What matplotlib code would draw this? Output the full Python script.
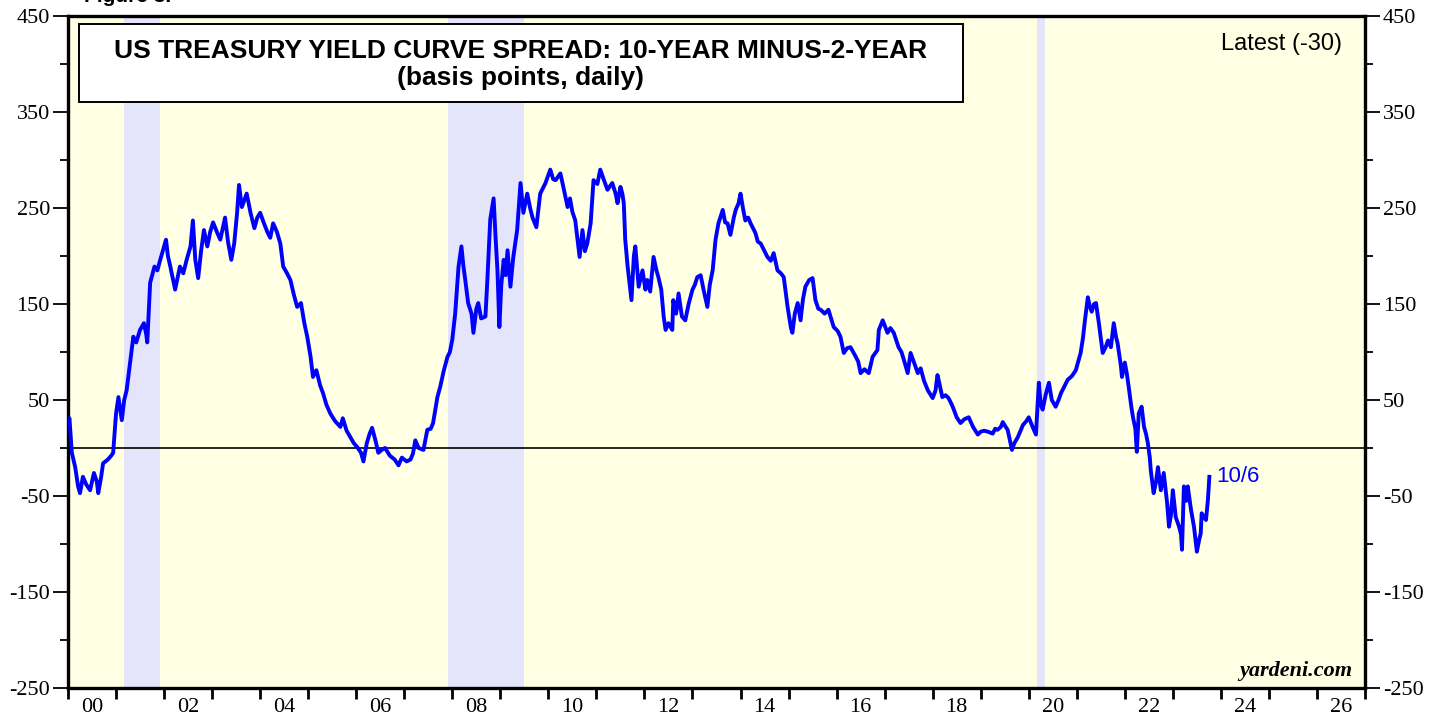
import numpy as np
import matplotlib
matplotlib.use('Agg')
import matplotlib.pyplot as plt
from matplotlib.patches import Rectangle
from matplotlib.ticker import FixedLocator

plt.rcParams['axes.unicode_minus'] = False

# Dades llegides del gràfic (any en fracció, punts bàsics)
dates = [
    2000.00, 2000.03, 2000.08, 2000.15, 2000.21, 2000.25, 2000.31, 2000.38, 2000.46, 2000.54,
    2000.60, 2000.63, 2000.69, 2000.73, 2000.83, 2000.90, 2000.94, 2001.00, 2001.05, 2001.12,
    2001.17, 2001.22, 2001.30, 2001.36, 2001.42, 2001.50, 2001.58, 2001.63, 2001.65, 2001.71,
    2001.80, 2001.86, 2001.92, 2002.04, 2002.08, 2002.13, 2002.23, 2002.33, 2002.40, 2002.47,
    2002.55, 2002.60, 2002.65, 2002.71, 2002.77, 2002.83, 2002.90, 2002.96, 2003.02, 2003.10,
    2003.17, 2003.27, 2003.33, 2003.40, 2003.46, 2003.52, 2003.56, 2003.62, 2003.72, 2003.80,
    2003.88, 2003.94, 2004.00, 2004.08, 2004.15, 2004.21, 2004.27, 2004.35, 2004.42, 2004.48,
    2004.56, 2004.63, 2004.70, 2004.77, 2004.85, 2004.92, 2004.98, 2005.05, 2005.10, 2005.17,
    2005.25, 2005.31, 2005.38, 2005.46, 2005.56, 2005.67, 2005.72, 2005.80, 2005.88, 2005.95,
    2006.02, 2006.10, 2006.15, 2006.22, 2006.28, 2006.33, 2006.40, 2006.46, 2006.53, 2006.60,
    2006.70, 2006.80, 2006.88, 2006.95, 2007.05, 2007.13, 2007.18, 2007.23, 2007.30, 2007.40,
    2007.48, 2007.55, 2007.60, 2007.69, 2007.75, 2007.82, 2007.90, 2007.95, 2008.00, 2008.06,
    2008.13, 2008.19, 2008.23, 2008.27, 2008.33, 2008.40, 2008.44, 2008.50, 2008.54, 2008.60,
    2008.69, 2008.73, 2008.79, 2008.86, 2008.90, 2008.94, 2008.98, 2009.02, 2009.07, 2009.11,
    2009.15, 2009.21, 2009.27, 2009.35, 2009.42, 2009.48, 2009.56, 2009.62, 2009.67, 2009.75,
    2009.83, 2009.94, 2010.04, 2010.10, 2010.15, 2010.25, 2010.32, 2010.40, 2010.45, 2010.50,
    2010.56, 2010.65, 2010.71, 2010.76, 2010.81, 2010.88, 2010.94, 2011.02, 2011.08, 2011.15,
    2011.23, 2011.33, 2011.40, 2011.44, 2011.50, 2011.54, 2011.57, 2011.60, 2011.65, 2011.73,
    2011.78, 2011.81, 2011.88, 2011.96, 2012.02, 2012.06, 2012.12, 2012.19, 2012.25, 2012.29,
    2012.35, 2012.40, 2012.44, 2012.50, 2012.58, 2012.60, 2012.66, 2012.71, 2012.78, 2012.85,
    2012.92, 2013.00, 2013.05, 2013.10, 2013.17, 2013.23, 2013.31, 2013.36, 2013.42, 2013.48,
    2013.54, 2013.63, 2013.68, 2013.73, 2013.79, 2013.86, 2013.90, 2013.96, 2014.00, 2014.05,
    2014.10, 2014.16, 2014.21, 2014.31, 2014.36, 2014.42, 2014.50, 2014.56, 2014.63, 2014.69,
    2014.77, 2014.84, 2014.90, 2014.98, 2015.05, 2015.08, 2015.13, 2015.19, 2015.25, 2015.30,
    2015.35, 2015.43, 2015.50, 2015.56, 2015.62, 2015.67, 2015.75, 2015.83, 2015.94, 2016.02,
    2016.08, 2016.15, 2016.22, 2016.29, 2016.40, 2016.45, 2016.50, 2016.58, 2016.67, 2016.75,
    2016.85, 2016.88, 2016.96, 2017.06, 2017.12, 2017.19, 2017.29, 2017.35, 2017.40, 2017.48,
    2017.54, 2017.62, 2017.69, 2017.75, 2017.82, 2017.90, 2018.00, 2018.06, 2018.10, 2018.15,
    2018.20, 2018.27, 2018.33, 2018.40, 2018.44, 2018.50, 2018.58, 2018.66, 2018.75, 2018.84,
    2018.94, 2019.00, 2019.07, 2019.15, 2019.25, 2019.30, 2019.35, 2019.42, 2019.46, 2019.52,
    2019.56, 2019.60, 2019.65, 2019.70, 2019.77, 2019.83, 2019.88, 2019.95, 2020.00, 2020.08,
    2020.15, 2020.21, 2020.25, 2020.29, 2020.35, 2020.42, 2020.48, 2020.56, 2020.62, 2020.67,
    2020.75, 2020.81, 2020.90, 2020.98, 2021.03, 2021.08, 2021.13, 2021.17, 2021.23, 2021.27,
    2021.31, 2021.36, 2021.40, 2021.46, 2021.54, 2021.60, 2021.65, 2021.71, 2021.77, 2021.82,
    2021.85, 2021.92, 2021.94, 2022.00, 2022.04, 2022.08, 2022.13, 2022.17, 2022.22, 2022.25,
    2022.29, 2022.35, 2022.40, 2022.44, 2022.48, 2022.52, 2022.54, 2022.60, 2022.65, 2022.69,
    2022.75, 2022.81, 2022.88, 2022.92, 2022.96, 2023.00, 2023.06, 2023.13, 2023.17, 2023.19,
    2023.23, 2023.28, 2023.31, 2023.38, 2023.44, 2023.50, 2023.55, 2023.58, 2023.60, 2023.65,
    2023.69, 2023.73, 2023.76,
]
spread = [
    26, 31, -5, -20, -40, -47, -30, -38, -44, -26,
    -35, -47, -30, -16, -12, -8, -5, 36, 53, 29,
    50, 60, 92, 116, 110, 123, 130, 118, 110, 172,
    189, 185, 196, 217, 200, 189, 165, 189, 182, 196,
    210, 237, 196, 177, 205, 227, 210, 225, 235, 225,
    217, 240, 215, 196, 213, 245, 274, 251, 265, 245,
    229, 240, 245, 234, 225, 219, 234, 225, 213, 189,
    182, 175, 160, 147, 151, 130, 116, 95, 74, 81,
    65, 57, 45, 36, 28, 22, 31, 18, 11, 5,
    1, -5, -14, 5, 15, 21, 8, -5, -2, 0,
    -8, -12, -18, -10, -14, -12, -6, 8, 0, -2,
    19, 20, 26, 53, 64, 80, 95, 100, 113, 140,
    189, 210, 190, 175, 151, 140, 120, 145, 151, 135,
    137, 175, 238, 260, 220, 185, 126, 170, 196, 180,
    206, 168, 199, 227, 276, 245, 265, 250, 240, 230,
    265, 276, 290, 280, 279, 286, 270, 251, 260, 246,
    237, 199, 227, 205, 213, 234, 279, 275, 290, 280,
    269, 276, 265, 255, 272, 265, 255, 217, 189, 154,
    200, 210, 168, 185, 165, 175, 163, 199, 185, 178,
    165, 137, 123, 130, 123, 154, 140, 161, 137, 133,
    150, 165, 170, 178, 180, 165, 147, 170, 185, 217,
    234, 248, 235, 234, 222, 240, 248, 255, 265, 250,
    237, 240, 234, 224, 215, 213, 205, 199, 195, 203,
    185, 182, 178, 147, 125, 120, 140, 151, 133, 155,
    168, 175, 177, 154, 145, 144, 140, 144, 126, 122,
    116, 99, 104, 105, 95, 90, 78, 82, 78, 95,
    102, 123, 133, 120, 125, 120, 105, 100, 92, 78,
    99, 88, 78, 83, 70, 60, 52, 60, 76, 65,
    53, 55, 52, 45, 40, 32, 26, 30, 32, 22,
    14, 17, 18, 17, 15, 20, 19, 22, 27, 22,
    19, 10, -2, 5, 11, 18, 24, 28, 32, 22,
    14, 68, 45, 40, 55, 68, 50, 43, 50, 57,
    65, 71, 75, 81, 90, 99, 115, 133, 157, 148,
    142, 150, 151, 130, 99, 105, 112, 105, 130, 115,
    109, 85, 74, 89, 78, 64, 45, 32, 20, -4,
    36, 43, 22, 15, 5, -10, -23, -47, -35, -20,
    -44, -26, -57, -82, -70, -44, -72, -82, -90, -106,
    -40, -55, -40, -65, -82, -108, -95, -89, -68, -72,
    -75, -54, -30,
]

# Recessions (inici, final)
rec_start = [2001.17, 2007.92, 2020.17]
rec_end = [2001.92, 2009.50, 2020.33]

year_labels = ['00', '02', '04', '06', '08', '10', '12', '14', '16', '18', '20', '22', '24', '26']
y_labeled = [-250, -150, -50, 50, 150, 250, 350, 450]
y_minor = [-200, -100, 0, 100, 200, 300, 400]

fig = plt.figure(figsize=(14.39, 7.19), dpi=100)
ax = fig.add_axes([68 / 1439, 1 - 688 / 719, 1297 / 1439, 672 / 719])
ax.set_facecolor('#FFFFE3')

for s, e in zip(rec_start, rec_end):
    ax.axvspan(s, e, color='#E4E4FA', lw=0, zorder=0)

ax.axhline(0, color='black', lw=1.2, zorder=1)
ax.plot(dates, spread, color='#0000FF', lw=2.8, zorder=3)

ax.set_xlim(2000, 2027)
ax.set_ylim(-250, 450)

# eix x: ticks cada any, etiquetes a mig any
ax.xaxis.set_major_locator(FixedLocator(np.arange(2000, 2028)))
ax.xaxis.set_minor_locator(FixedLocator([2000.5 + 2 * i for i in range(len(year_labels))]))
ax.xaxis.set_major_formatter(plt.NullFormatter())
ax.set_xticklabels(year_labels, minor=True)
ax.tick_params(axis='x', which='major', direction='out', length=8, width=2, bottom=True, top=False)
ax.tick_params(axis='x', which='minor', length=0, pad=7)

# eix y a banda i banda
ax.yaxis.set_major_locator(FixedLocator(y_labeled))
ax.yaxis.set_minor_locator(FixedLocator(y_minor))
ax.tick_params(axis='y', which='major', direction='out', length=11, width=1.3,
               left=True, right=True, labelleft=True, labelright=True, pad=2)
ax.tick_params(axis='y', which='minor', direction='out', length=6, width=1.3,
               left=True, right=True)

for lab in ax.get_xticklabels(minor=True) + ax.get_yticklabels():
    lab.set_family('Liberation Serif')
    lab.set_fontsize(16)

for sp in ax.spines.values():
    sp.set_linewidth(2.4)

# Caixa de títol
ax.add_patch(Rectangle((0.0085, 0.872), 0.6815, 0.116, transform=ax.transAxes,
                       facecolor='white', edgecolor='black', lw=1.4, zorder=5))
ax.text(0.3492, 0.948, 'US TREASURY YIELD CURVE SPREAD: 10-YEAR MINUS-2-YEAR',
        transform=ax.transAxes, ha='center', va='center', fontsize=19,
        fontweight='bold', family='Liberation Sans', zorder=6)
ax.text(0.3492, 0.908, '(basis points, daily)',
        transform=ax.transAxes, ha='center', va='center', fontsize=19,
        fontweight='bold', family='Liberation Sans', zorder=6)

ax.text(0.982, 0.958, 'Latest (-30)', transform=ax.transAxes, ha='right', va='center',
        fontsize=17, family='Liberation Sans')
ax.text(0.99, 0.018, 'yardeni.com', transform=ax.transAxes, ha='right', va='baseline',
        fontsize=16, family='Liberation Serif', fontweight='bold', style='italic')

ax.text(dates[-1] + 0.15, spread[-1], '10/6', color='#0000FF', ha='left', va='center',
        fontsize=16, family='Liberation Sans')

fig.text(84 / 1439, 1 - 2 / 719, 'Figure 3.', ha='left', va='baseline',
         fontsize=15, fontweight='bold', family='Liberation Sans')

fig.savefig('out.png', dpi=100)
